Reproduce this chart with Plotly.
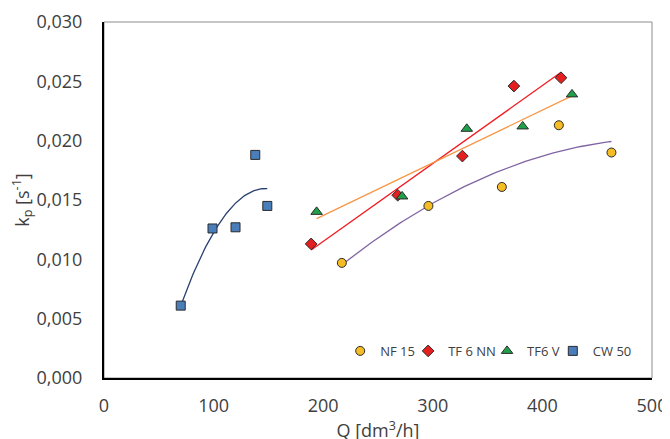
import numpy as np
import plotly.graph_objects as go

nf15_q = [217, 296, 363, 415, 463]
nf15_k = [0.0097, 0.0145, 0.0161, 0.0213, 0.0190]

tf6nn_q = [189, 268, 327, 374, 417]
tf6nn_k = [0.0113, 0.0154, 0.0187, 0.0246, 0.0253]

tf6v_q = [194, 272, 331, 382, 427]
tf6v_k = [0.0140, 0.0153, 0.0210, 0.0212, 0.0239]

cw50_q = [70, 99, 120, 138, 149]
cw50_k = [0.0061, 0.0126, 0.0127, 0.0188, 0.0145]

x_ticks = [0, 100, 200, 300, 400, 500]
y_ticks = [0.000, 0.005, 0.010, 0.015, 0.020, 0.025, 0.030]

series = [
    # name, q, k, fill, symbol, size, trend order, trend colour, legend id, legend x
    ("NF 15", nf15_q, nf15_k, "#F6BC23", "circle", 9, 2, "#8064A2", "legend", 0.431),
    ("TF 6 NN", tf6nn_q, tf6nn_k, "#E3201F", "diamond", 9, 1, "#F21B22", "legend2", 0.555),
    ("TF6 V", tf6v_q, tf6v_k, "#21A04A", "triangle-up", 10, 1, "#F79646", "legend3", 0.699),
    ("CW 50", cw50_q, cw50_k, "#4A7EBB", "square", 9, 2, "#2A4170", "legend4", 0.819),
]

fig = go.Figure()

# excel-style trend lines, drawn under the markers
for name, q, k, fill, symbol, size, order, tcol, leg, lx in series:
    coef = np.polyfit(q, k, order)
    qq = np.linspace(min(q), max(q), 80)
    fig.add_trace(go.Scatter(
        x=qq, y=np.polyval(coef, qq), mode="lines",
        line=dict(color=tcol, width=1.3), showlegend=False, hoverinfo="skip",
    ))

legends = {}
for name, q, k, fill, symbol, size, order, tcol, leg, lx in series:
    fig.add_trace(go.Scatter(
        x=q, y=k, mode="markers", name=name, legend=leg,
        marker=dict(symbol=symbol, size=size, color=fill,
                    line=dict(color="#2b2b2b", width=1)),
    ))
    # one legend per entry so the spacing can follow the excel layout
    legends[leg] = dict(
        x=lx, y=0.076, xanchor="left", yanchor="middle",
        bgcolor="rgba(0,0,0,0)", font=dict(size=13, color="#404040"),
        itemwidth=30,
    )

font_main = "Open Sans, Liberation Sans, sans-serif"

# page body has an 8px margin, margins below are shifted to make up for it
fig.update_layout(
    width=670, height=439,
    margin=dict(l=96, r=26, t=14, b=69),
    paper_bgcolor="white", plot_bgcolor="white",
    separators=",.",
    font=dict(family=font_main, size=18, color="#404040"),
    shapes=[dict(type="rect", xref="paper", yref="paper", x0=0, x1=1, y0=0, y1=1,
                 line=dict(color="#8c8c8c", width=1), layer="below")],
    xaxis=dict(
        range=[0, 500], tickvals=x_ticks, showgrid=False, zeroline=False,
        showline=True, linecolor="black", linewidth=2, ticks="",
        ticklabelstandoff=10, automargin=False,
        title=dict(text="Q [dm<sup>3</sup>/h]", standoff=0, font=dict(size=18)),
    ),
    yaxis=dict(
        range=[0, 0.030], tickvals=y_ticks, tickformat=".3f", showgrid=False,
        zeroline=False, showline=True, linecolor="black", linewidth=2, ticks="",
        ticklabelstandoff=16, automargin=False,
        title=dict(text="k<sub>p</sub> [s<sup>-1</sup>]", standoff=4, font=dict(size=18)),
    ),
    **legends,
)

fig.write_html("out.html")
